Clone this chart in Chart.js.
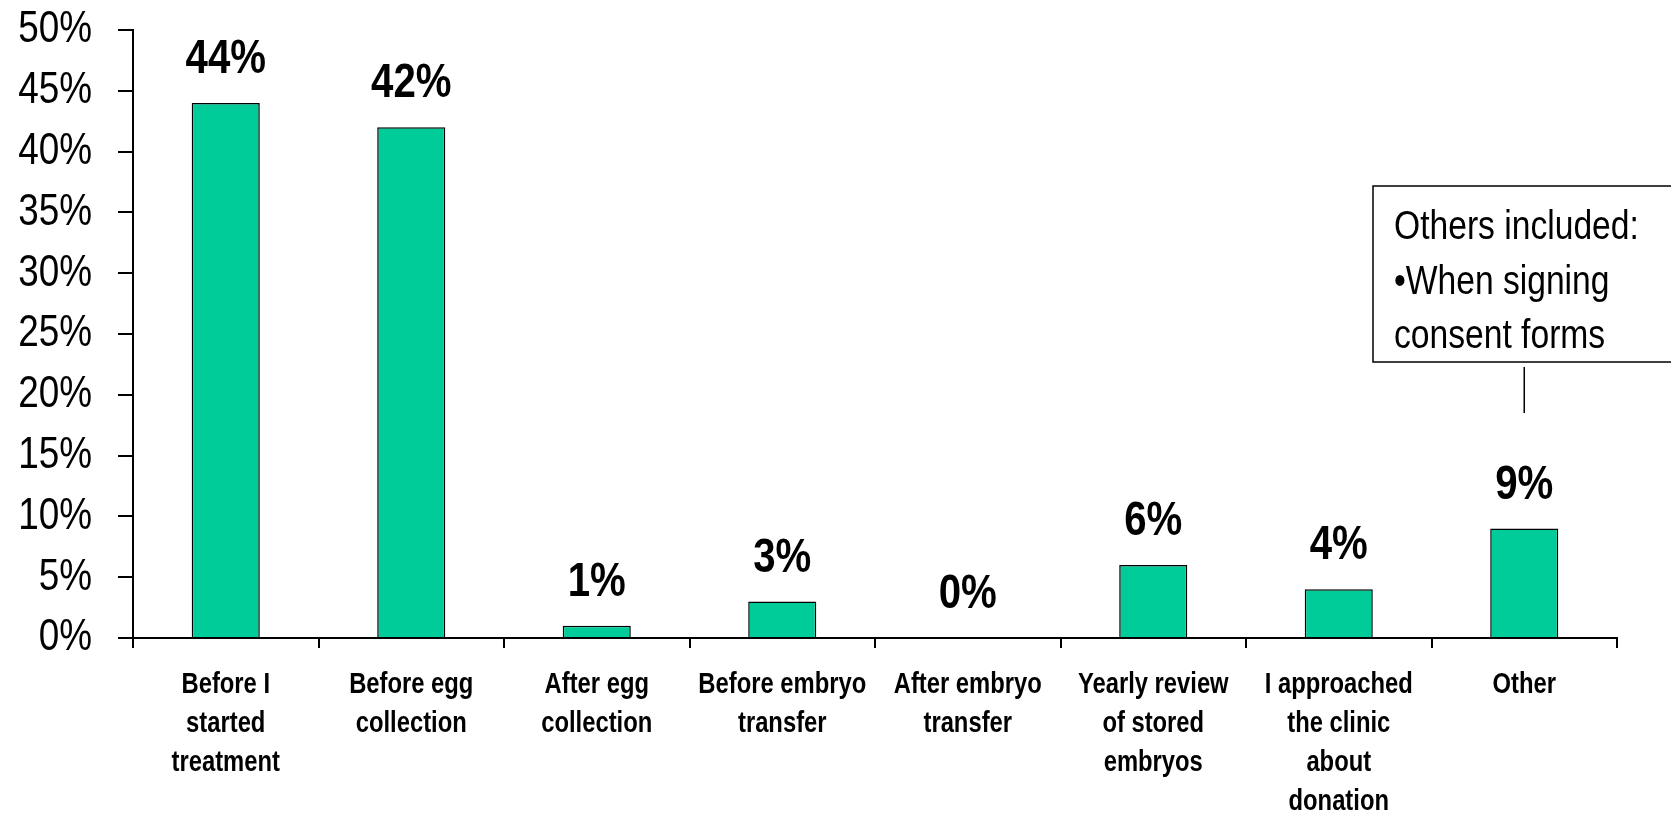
<!DOCTYPE html>
<html>
<head>
<meta charset="utf-8">
<script src="https://cdn.jsdelivr.net/npm/chart.js@4/dist/chart.umd.min.js"></script>
<style>
  html, body { margin: 0; padding: 0; background: #ffffff; }
  #wrap { position: relative; width: 1671px; height: 816px; }
</style>
</head>
<body>
<div id="wrap"><canvas id="c"></canvas></div>
<script>
const categories = [
  ["Before I", "started", "treatment"],
  ["Before egg", "collection"],
  ["After egg", "collection"],
  ["Before embryo", "transfer"],
  ["After embryo", "transfer"],
  ["Yearly review", "of stored", "embryos"],
  ["I approached", "the clinic", "about", "donation"],
  ["Other"]
];
const values = [44, 42, 1, 3, 0, 6, 4, 9];
const yTicks = [0, 5, 10, 15, 20, 25, 30, 35, 40, 45, 50];
const noteLines = ["Others included:", "\u2022When signing", "consent forms"];

const FONT = "'Liberation Sans', Arial, sans-serif";
const NARROW = 0.82; // horizontal compression to mimic a narrow face

const canvas = document.getElementById('c');
const ctx0 = canvas.getContext('2d');
const origFill = ctx0.fillText.bind(ctx0);
const origMeasure = ctx0.measureText.bind(ctx0);
ctx0.fillText = function (t, x, y, mw) {
  this.save();
  this.translate(x, y);
  this.scale(NARROW, 1);
  origFill(t, 0, 0);
  this.restore();
};
ctx0.measureText = function (t) {
  const m = origMeasure(t);
  return {
    width: m.width * NARROW,
    actualBoundingBoxAscent: m.actualBoundingBoxAscent,
    actualBoundingBoxDescent: m.actualBoundingBoxDescent,
    actualBoundingBoxLeft: m.actualBoundingBoxLeft * NARROW,
    actualBoundingBoxRight: m.actualBoundingBoxRight * NARROW
  };
};

const labelPlugin = {
  id: 'valueLabels',
  afterDatasetsDraw(chart) {
    const ctx = chart.ctx;
    const meta = chart.getDatasetMeta(0);
    ctx.save();
    ctx.font = "bold 49px " + FONT;
    ctx.fillStyle = '#000';
    ctx.textAlign = 'center';
    ctx.textBaseline = 'alphabetic';
    meta.data.forEach((bar, i) => {
      ctx.fillText(values[i] + '%', bar.x, bar.y - 30);
    });
    ctx.restore();
  }
};

const notePlugin = {
  id: 'note',
  afterDraw(chart) {
    const ctx = chart.ctx;
    const xs = chart.scales.x;
    const cx = xs.getPixelForValue(values.length - 1);
    ctx.save();
    ctx.strokeStyle = '#000';
    ctx.lineWidth = 1.5;
    ctx.strokeRect(1373, 186, 330, 176);
    ctx.beginPath();
    ctx.moveTo(cx, 367);
    ctx.lineTo(cx, 413);
    ctx.stroke();
    ctx.font = "41px " + FONT;
    ctx.fillStyle = '#000';
    ctx.textAlign = 'left';
    ctx.textBaseline = 'alphabetic';
    noteLines.forEach((t, i) => ctx.fillText(t, 1394, 239 + i * 54.5));
    ctx.restore();
  }
};

new Chart(canvas, {
  type: 'bar',
  data: {
    labels: categories,
    datasets: [{
      data: values,
      backgroundColor: '#00CC99',
      borderColor: '#000000',
      borderWidth: 1.5,
      borderSkipped: 'bottom',
      barPercentage: 0.367,
      categoryPercentage: 1.0
    }]
  },
  options: {
    responsive: true,
    maintainAspectRatio: false,
    animation: false,
    layout: { padding: { top: 30, right: 54, bottom: 0, left: 0 } },
    plugins: { legend: { display: false }, tooltip: { enabled: false }, title: { display: false } },
    scales: {
      y: {
        min: 0, max: 50,
        afterBuildTicks(scale) { scale.ticks = yTicks.map(v => ({ value: v })); },
        afterFit(scale) { scale.width = 133; scale.paddingTop = 0; scale.paddingBottom = 0; },
        ticks: {
          color: '#000',
          font: { family: FONT, size: 45, weight: 'normal' },
          padding: 26,
          callback: v => v + '%'
        },
        grid: { drawOnChartArea: false, drawTicks: true, tickLength: 15, color: '#000', lineWidth: 2 },
        border: { display: true, color: '#000', width: 2 }
      },
      x: {
        afterFit(scale) { scale.height = 178; scale.paddingLeft = 0; scale.paddingRight = 0; },
        ticks: {
          color: '#000',
          font: { family: FONT, size: 29, weight: 'bold', lineHeight: 1.345 },
          padding: 17,
          maxRotation: 0,
          minRotation: 0,
          autoSkip: false
        },
        grid: { offset: true, drawOnChartArea: false, drawTicks: true, tickLength: 10, color: '#000', lineWidth: 2 },
        border: { display: true, color: '#000', width: 2 }
      }
    }
  },
  plugins: [labelPlugin, notePlugin]
});
</script>
</body>
</html>
